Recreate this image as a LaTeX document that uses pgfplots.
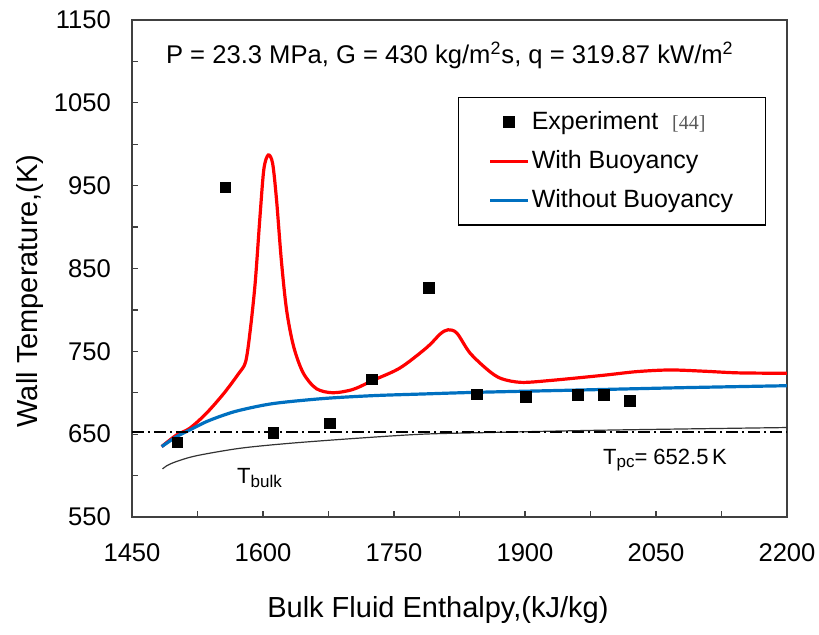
\documentclass[border=0pt]{standalone}
\usepackage{pgfplots}
\pgfplotsset{compat=1.18}
\usepackage{fontspec}
\setmainfont{Liberation Sans}
\newfontfamily\serifref{Liberation Serif}
\definecolor{myred}{RGB}{255,0,0}
\definecolor{myblue}{RGB}{0,112,192}
\pgfplotsset{
  linelegend/.style={legend image code/.code={\draw[##1] (0pt,0pt) -- (19pt,0pt);}},
  marklegend/.style={legend image code/.code={\draw[##1] plot coordinates {(9.5pt,0pt)};}},
}
\begin{document}
\begin{tikzpicture}
\begin{axis}[
  scale only axis,
  width=327.5pt, height=248.5pt,
  xmin=1450, xmax=2200, ymin=550, ymax=1150,
  xtick={1450,1600,...,2200},
  minor xtick={1525,1675,...,2125},
  ytick={550,650,...,1150},
  minor ytick={600,700,...,1100},
  tick pos=left,
  tick align=inside,
  major tick length=3pt, minor tick length=3pt,
  every tick/.style={black!75, line width=0.6pt},
  axis line style={black!75, line width=0.9pt},
  /pgf/number format/assume math mode=true,
  /pgf/number format/1000 sep={},
  tick label style={font=\fontsize{12.8}{15}\selectfont},
  yticklabel style={xshift=-7pt},
  xticklabel style={yshift=-10pt},
  xlabel={Bulk Fluid Enthalpy,(kJ/kg)},
  ylabel={Wall Temperature,(K)},
  every axis x label/.style={at={(axis description cs:0.467,0)}, anchor=center, yshift=-46.5pt, font=\fontsize{14.5}{17}\selectfont},
  every axis y label/.style={at={(axis description cs:-0.156,0.455)}, anchor=center, rotate=90, font=\fontsize{14.5}{17}\selectfont},
  legend style={at={(axis description cs:0.4977,0.845)}, anchor=north west,
    draw=black, line width=0.6pt, inner xsep=15pt, inner ysep=5pt,
    font=\fontsize{12.5}{15}\selectfont, row sep=5pt,
    nodes={inner xsep=1pt},
    /tikz/every even column/.append style={column sep=2pt}},
  legend cell align=left,
]
\coordinate (sw) at (rel axis cs:0,0);
\coordinate (ne) at (rel axis cs:1,1);
\addplot[only marks, mark=square*, mark size=2.7pt, black, marklegend]
  coordinates {(1502,640) (1557,948) (1612,652) (1677,663) (1725,716) (1790,827)
  (1845,698) (1901,695) (1961,697) (1990,697) (2020,690)};
\addlegendentry{Experiment\hspace{7pt}{\serifref\color{black!65}\fontsize{10}{12}\selectfont [44]}}
\addplot[myred, line width=1.6pt, smooth, tension=0.5, linelegend]
  coordinates {(1484,635) (1501,649) (1516,657) (1535,675) (1555,699) (1572,723)
  (1580,737) (1585,772) (1591,832) (1596.5,912) (1601,970) (1606,987) (1611,977)
  (1615.5,933) (1621,860) (1627,800) (1635,756) (1646,724) (1661,705) (1680,700)
  (1703,704) (1726,715) (1757,730) (1788,755) (1803,771) (1812,776) (1822,772)
  (1837,748) (1858,727) (1873,717) (1896,712.5) (1931,715) (1989,721) (2028,725.5)
  (2066,727.5) (2105,726) (2144,724) (2200,723.5)};
\addlegendentry{With Buoyancy}
\addplot[myblue, line width=1.6pt, smooth, tension=0.5, linelegend]
  coordinates {(1484,635) (1501,647) (1516,655) (1535,665) (1555,673) (1574,679)
  (1612,687) (1669,693) (1726,696.5) (1783,698.5) (1844,700.5) (1950,703)
  (2075,706) (2200,708.5)};
\addlegendentry{Without Buoyancy}
\addplot[black!80, line width=0.6pt, smooth, tension=0.5, forget plot]
  coordinates {(1485,608) (1490,612) (1501,617) (1524,624) (1574,633) (1631,639)
  (1707,645) (1783,650) (1860,652) (2000,655) (2200,658)};
\addplot[black, line width=0.6pt, dash pattern=on 6pt off 2pt on 1pt off 2pt, forget plot]
  coordinates {(1450,652.5) (2200,652.5)};
\node[font=\fontsize{12.8}{15}\selectfont] at (axis cs:1814,1107)
  {P = 23.3 MPa, G = 430 kg/m\textsuperscript{2}s, q = 319.87 kW/m\textsuperscript{2}};
\node[anchor=west, font=\fontsize{11}{13}\selectfont, inner sep=0pt] at (axis cs:1989,619)
  {T\raisebox{-0.3ex}{\fontsize{8.5}{10}\selectfont pc}= 652.5\,K};
\node[anchor=west, font=\fontsize{11}{13}\selectfont, inner sep=0pt] at (axis cs:1570,597)
  {T\raisebox{-0.3ex}{\fontsize{8.5}{10}\selectfont bulk}};
\end{axis}
\pgfresetboundingbox
\path[use as bounding box] ([xshift=-66pt,yshift=-59pt]sw) rectangle ([xshift=16pt,yshift=10pt]ne);
\end{tikzpicture}
\end{document}
